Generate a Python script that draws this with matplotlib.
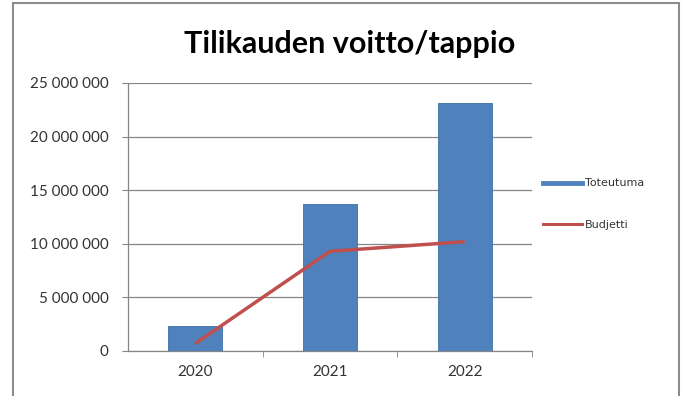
import matplotlib
matplotlib.use("Agg")
import matplotlib.pyplot as plt
from matplotlib.lines import Line2D
from matplotlib.patches import Rectangle
from matplotlib.ticker import FuncFormatter, FixedLocator

years = ["2020", "2021", "2022"]
toteutuma = [2300000, 13700000, 23100000]
budjetti = [700000, 9300000, 10200000]
yticks = [0, 5000000, 10000000, 15000000, 20000000, 25000000]

plt.rcParams['font.family'] = ['Lato', 'DejaVu Sans']

fig = plt.figure(figsize=(6.9, 3.96), dpi=100)
fig.patch.set_facecolor('white')
# outer frame
fig.patches.append(Rectangle((13/690, -0.05), (679-13)/690, 1.05 - 3/396,
                             transform=fig.transFigure, fill=False,
                             edgecolor='#8c8c8c', linewidth=1.5))

ax = fig.add_axes([128/690, 1-351/396, (532-128)/690, (351-83)/396])
x = list(range(len(years)))
ax.bar(x, toteutuma, width=0.4, color='#4F81BD', edgecolor='#3f6fa8', linewidth=0.6, zorder=3)
ax.plot(x, budjetti, color='#C0504D', linewidth=2.5, zorder=4, solid_capstyle='butt')

ax.set_xlim(-0.5, 2.5)
ax.set_ylim(0, 25000000)
ax.yaxis.set_major_locator(FixedLocator(yticks))
ax.yaxis.set_major_formatter(FuncFormatter(lambda v, p: f"{int(v):,}".replace(",", " ")))
ax.set_xticks(x)
ax.set_xticklabels(years)
ax.set_xticks([0.5, 1.5, 2.5], minor=True)
ax.tick_params(axis='x', which='major', length=0, labelsize=11, pad=10, colors='#333333')
ax.tick_params(axis='x', which='minor', length=4, color='#868686', direction='out')
ax.tick_params(axis='y', length=4, color='#868686', labelsize=11, colors='#333333', pad=10)
ax.tick_params(axis='y', color='#868686')

ax.grid(axis='y', color='#868686', linewidth=0.9, zorder=0)
for s in ['top', 'right']:
    ax.spines[s].set_visible(False)
for s in ['left', 'bottom']:
    ax.spines[s].set_color('#868686')
    ax.spines[s].set_linewidth(0.9)

fig.text(350/690, 1-44/396, "Tilikauden voitto/tappio", ha='center', va='center',
         fontsize=22, fontweight='bold', color='black')

handles = [Line2D([0], [0], color='#4F81BD', linewidth=3.5),
           Line2D([0], [0], color='#C0504D', linewidth=2.2)]
leg = fig.legend(handles, ["Toteutuma", "Budjetti"], loc='center left',
                 bbox_to_anchor=(543/690, 1-204/396), frameon=False,
                 prop={'family': 'DejaVu Sans', 'size': 8},
                 handlelength=3.5, handletextpad=0.25, labelspacing=2.8,
                 borderpad=0, borderaxespad=0)
for t in leg.get_texts():
    t.set_color('#333333')

fig.savefig("out.png", dpi=100)
